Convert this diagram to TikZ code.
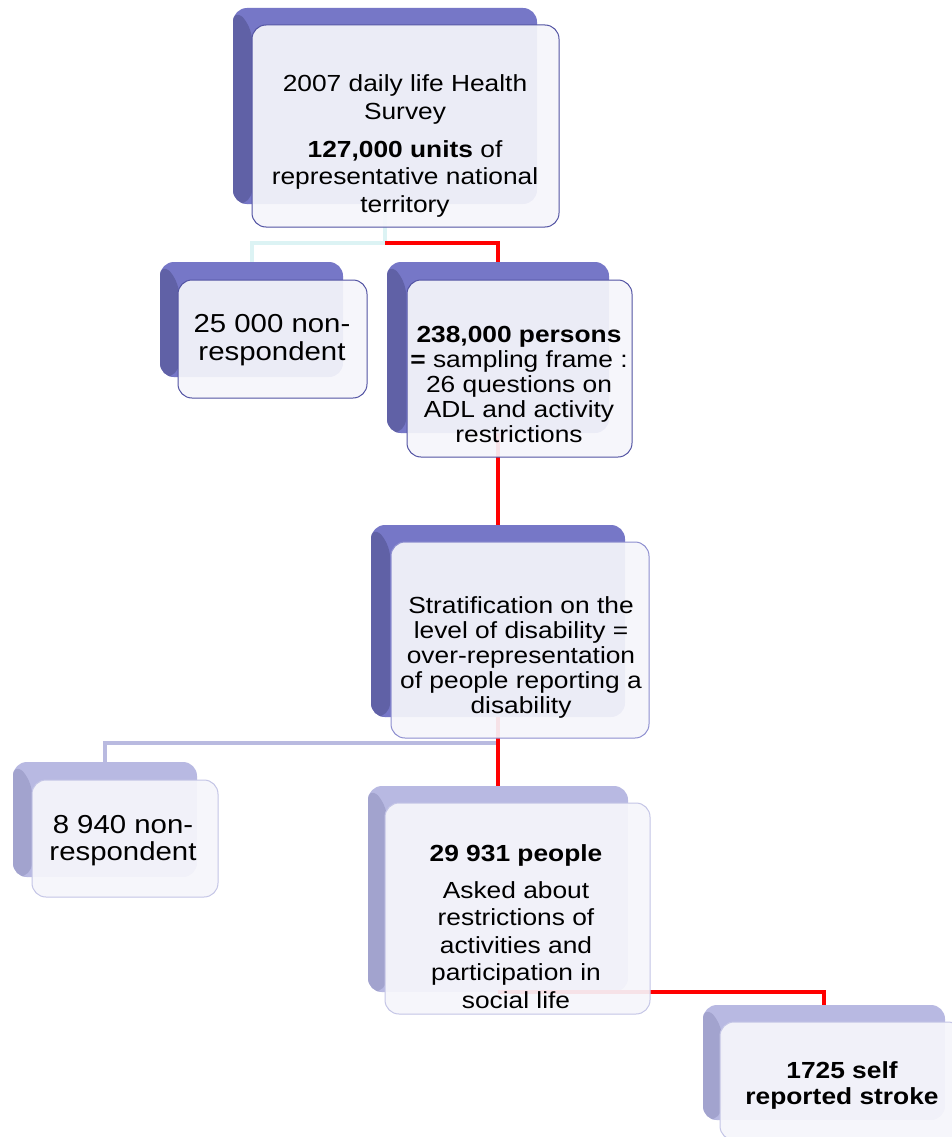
\documentclass[tikz,border=0pt]{standalone}
\usepackage{fontspec}
\setmainfont{Liberation Sans}[FakeStretch=1.13]
\definecolor{topA}{HTML}{7677C7}
\definecolor{leftA}{HTML}{6061A6}
\definecolor{topB}{HTML}{B8B9E2}
\definecolor{leftB}{HTML}{A2A3CE}
\definecolor{frontfill}{HTML}{F6F6FB}
\definecolor{drawA}{HTML}{5253A3}
\definecolor{drawM}{HTML}{8D8ECF}
\definecolor{drawB}{HTML}{C4C5E6}
\definecolor{cyanc}{HTML}{DCF3F4}
\definecolor{lavc}{HTML}{B9BAE0}
\newcommand\shb[1]{{\bfseries #1}}
\begin{document}
\begin{tikzpicture}[x=1pt,y=-1pt,
  bevel/.style={path picture={\fill[#1] (path picture bounding box.north west) -- ++(19pt,-18pt) -- ([xshift=19pt]path picture bounding box.south west) -- (path picture bounding box.south west) -- cycle;}},
  backbox/.style={draw=none, inner sep=0pt, outer sep=0pt, rounded corners=14pt},
  backA/.style={backbox, fill=topA, bevel=leftA},
  backB/.style={backbox, fill=topB, bevel=leftB},
  frontbox/.style={inner sep=0pt, outer sep=0pt, rounded corners=14pt, fill=frontfill, fill opacity=0.92, line width=1pt},
  frontA/.style={frontbox, draw=drawA},
  frontM/.style={frontbox, draw=drawM},
  frontB/.style={frontbox, draw=drawB},
  txt/.style={inner sep=0pt, anchor=base},
  conn/.style={line width=4pt, line join=miter},
  redline/.style={conn, draw=red},
  cyanline/.style={conn, draw=cyanc},
  lavline/.style={conn, draw=lavc}
]
\useasboundingbox (0,0) rectangle (952,1137);
\clip (0,0) rectangle (952,1137);
\fill[white] (0,0) rectangle (952,1137);

% back boxes
\node[backA, minimum width=304pt, minimum height=196pt] (b1) at (385,106) {};
\node[backA, minimum width=183pt, minimum height=115pt] (b2) at (251.5,319.5) {};
\node[backA, minimum width=222pt, minimum height=171pt] (b3) at (498,347.5) {};
\node[backA, minimum width=254pt, minimum height=192pt] (b4) at (498,621) {};
\node[backB, minimum width=184pt, minimum height=115pt] (b5) at (105,819.5) {};
\node[backB, minimum width=260pt, minimum height=206pt] (b6) at (498,889) {};
\node[backB, minimum width=242pt, minimum height=115pt] (b7) at (824,1062.5) {};

% connectors
\coordinate (j1) at (385,243);
\coordinate (j3) at (498,743);
\draw[cyanline] (b1.south) -- (j1) -| (b2.north);
\draw[redline] (j1) -| (b3.north);
\draw[redline] (b3.south) -- (b4.north);
\draw[lavline] (j3) -| (b5.north);
\draw[redline] (b4.south) -- (j3) -- (b6.north);
\draw[redline] (b6.south) -| (b7.north);

% front boxes
\node[frontA, minimum width=307pt, minimum height=202pt] (f1) at (405.5,126) {};
\node[frontA, minimum width=189pt, minimum height=118pt] (f2) at (272.5,339) {};
\node[frontA, minimum width=225pt, minimum height=177pt] (f3) at (519.5,368.5) {};
\node[frontM, minimum width=258pt, minimum height=196pt] (f4) at (520,640) {};
\node[frontB, minimum width=186pt, minimum height=117pt] (f5) at (125,838.5) {};
\node[frontB, minimum width=265pt, minimum height=211pt] (f6) at (517.5,908.5) {};
\node[frontB, minimum width=242pt, minimum height=118pt] (f7) at (841,1081) {};

% texts
\node[txt] (t1) at (405,92) {\parbox[t]{320pt}{\centering\fontsize{23.3}{27.5}\selectfont
 2007 daily life Health\\Survey\\[10.5pt]\shb{127,000 units} of\\representative national\\territory}};
\node[txt] (t2) at (272,332) {\parbox[t]{220pt}{\centering\fontsize{26}{28}\selectfont
 25 000 non-\\respondent}};
\node[txt] (t3) at (519,342) {\parbox[t]{260pt}{\centering\fontsize{23.3}{25}\selectfont
 \shb{238,000 persons}\\\shb{=} sampling frame :\\26 questions on\\ADL and activity\\restrictions}};
\node[txt] (t4) at (521,613) {\parbox[t]{280pt}{\centering\fontsize{23.3}{25}\selectfont
 Stratification on the\\level of disability =\\over-representation\\of people reporting a\\disability}};
\node[txt] (t5) at (123,833) {\parbox[t]{220pt}{\centering\fontsize{26}{27}\selectfont
 8 940 non-\\respondent}};
\node[txt] (t6) at (516,861) {\parbox[t]{280pt}{\centering\fontsize{23.3}{27.5}\selectfont
 \shb{29 931 people}\\[9.5pt]Asked about\\restrictions of\\activities and\\participation in\\social life}};
\node[txt] (t7) at (842,1078) {\parbox[t]{260pt}{\centering\fontsize{23.3}{26.5}\selectfont
 \shb{1725 self}\\\shb{reported stroke}}};
\end{tikzpicture}
\end{document}
